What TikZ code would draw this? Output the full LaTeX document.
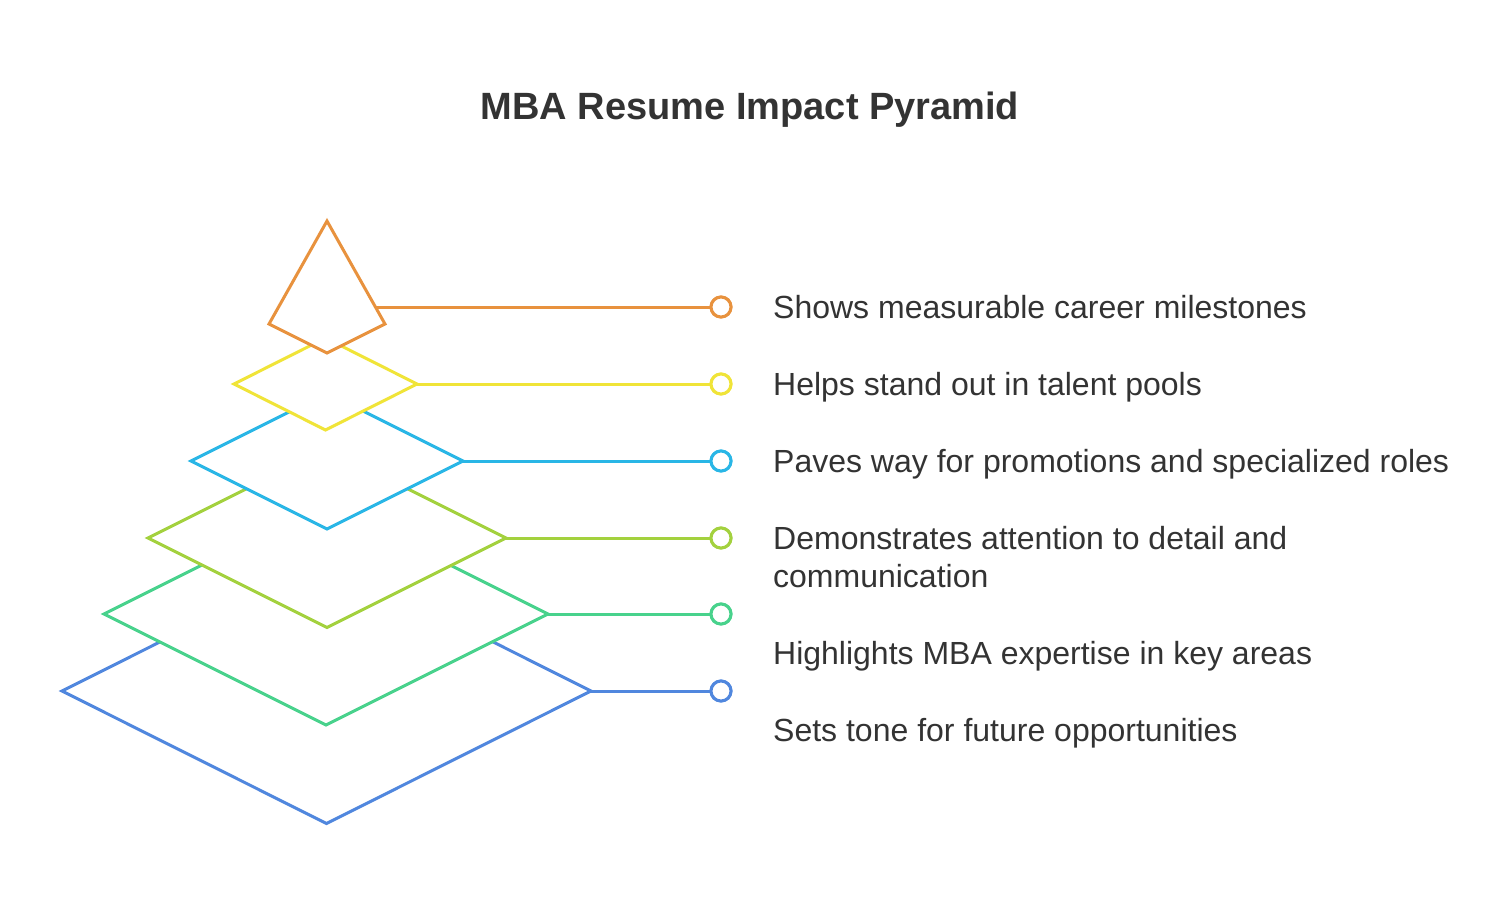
\documentclass[tikz,border=0pt]{standalone}
\usepackage{fontspec}
\setmainfont{Liberation Sans}
\definecolor{cOr}{RGB}{232,146,62}
\definecolor{cYe}{RGB}{240,228,56}
\definecolor{cCy}{RGB}{41,182,230}
\definecolor{cLi}{RGB}{163,209,62}
\definecolor{cGr}{RGB}{72,210,140}
\definecolor{cBl}{RGB}{80,135,222}
\definecolor{txt}{RGB}{51,51,51}
\tikzset{
  layer/.style={line width=3pt, fill=white, line join=miter},
  conn/.style={line width=3pt},
  dot/.style={circle, draw, fill=white, line width=3pt, minimum size=20pt, inner sep=0pt},
  lbl/.style={anchor=base west, text=txt, font=\fontsize{32}{38}\selectfont, inner sep=0pt, align=left},
}
\begin{document}
\begin{tikzpicture}[x=1pt,y=-1pt]
\useasboundingbox[fill=white] (0,0) rectangle (1500,922);
\node[text=txt, font=\bfseries\fontsize{38}{44}\selectfont, anchor=base] (title) at (750,119) {MBA Resume Impact Pyramid};
% tips
\coordinate (t6) at (591,691);
\coordinate (t5) at (548,614);
\coordinate (t4) at (506,538);
\coordinate (t3) at (463,461);
\coordinate (t2) at (417,384);
\coordinate (t1) at (340,307);
% circles
\node[dot, draw=cOr] (o1) at (721,307) {};
\node[dot, draw=cYe] (o2) at (721,384) {};
\node[dot, draw=cCy] (o3) at (721,461) {};
\node[dot, draw=cLi] (o4) at (721,538) {};
\node[dot, draw=cGr] (o5) at (721,614) {};
\node[dot, draw=cBl] (o6) at (721,691) {};
% connectors
\draw[conn, cOr] (t1) -- (o1);
\draw[conn, cYe] (t2) -- (o2);
\draw[conn, cCy] (t3) -- (o3);
\draw[conn, cLi] (t4) -- (o4);
\draw[conn, cGr] (t5) -- (o5);
\draw[conn, cBl] (t6) -- (o6);
% layers bottom to top
\draw[layer, draw=cBl] (62,691) -- (326.5,558.5) -- (t6) -- (326.5,823.5) -- cycle;
\draw[layer, draw=cGr] (104,614) -- (326,503) -- (t5) -- (326,725) -- cycle;
\draw[layer, draw=cLi] (148,538) -- (327,448.5) -- (t4) -- (327,627.5) -- cycle;
\draw[layer, draw=cCy] (191,461) -- (327,393) -- (t3) -- (327,529) -- cycle;
\draw[layer, draw=cYe] (234,384) -- (325.5,338) -- (t2) -- (325.5,430) -- cycle;
\draw[layer, draw=cOr] (269,324) -- (327,221) -- (385,324) -- (327,353) -- cycle;
% circles redrawn on top
\node[dot, draw=cOr] at (o1) {};
\node[dot, draw=cYe] at (o2) {};
\node[dot, draw=cCy] at (o3) {};
\node[dot, draw=cLi] at (o4) {};
\node[dot, draw=cGr] at (o5) {};
\node[dot, draw=cBl] at (o6) {};
% labels
\node[lbl] (l1) at (773,318) {Shows measurable career milestones};
\node[lbl] (l2) at (773,395) {Helps stand out in talent pools};
\node[lbl] (l3) at (773,472) {Paves way for promotions and specialized roles};
\node[lbl] (l4) at (773,587) {Demonstrates attention to detail and\\communication};
\node[lbl] (l5) at (773,664) {Highlights MBA expertise in key areas};
\node[lbl] (l6) at (773,741) {Sets tone for future opportunities};
\end{tikzpicture}
\end{document}
